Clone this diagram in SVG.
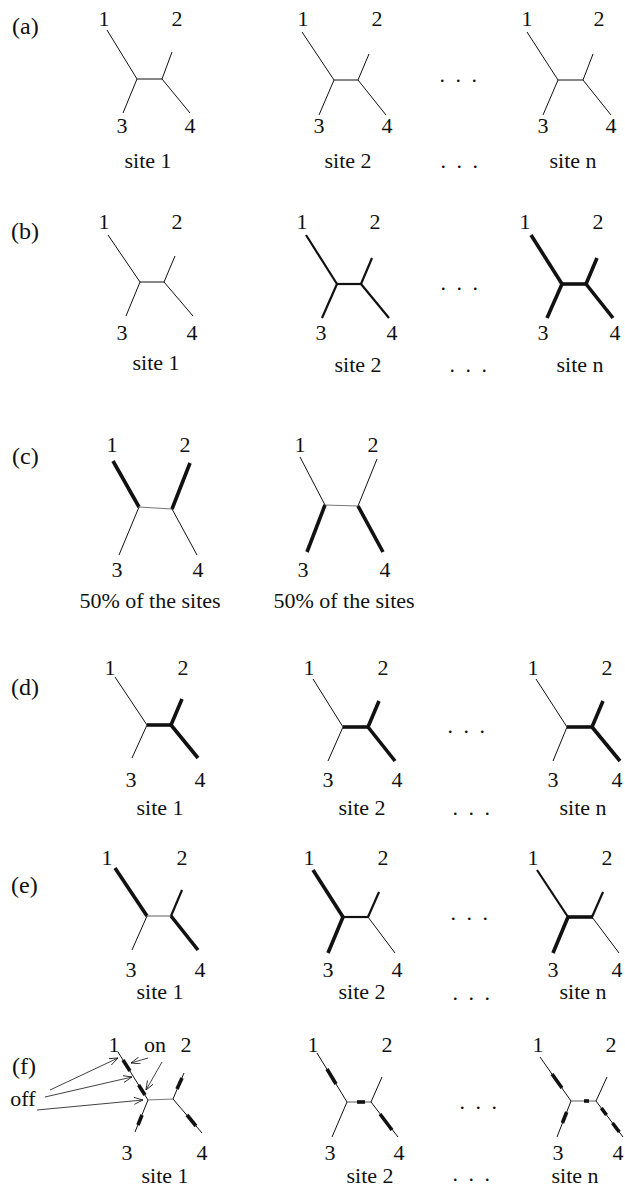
<svg xmlns="http://www.w3.org/2000/svg" width="625" height="1188" viewBox="0 0 625 1188">
<defs>
<style>
text{font-family:"Liberation Serif","Times New Roman",serif;font-size:22px;fill:#111}
.p{font-size:24px}
.m{text-anchor:middle}
.d{letter-spacing:2.5px}
line{stroke:#111;stroke-linecap:butt;fill:none}
.t{stroke-width:1}
.g{stroke:#777;stroke-width:1.2}
.md{stroke-width:2.2}
.k{stroke-width:3.6}
.s{stroke-width:3.6}
.ar{stroke-width:0.8}
</style>
<marker id="oa" markerWidth="10" markerHeight="8" refX="9" refY="3.5" orient="auto" markerUnits="userSpaceOnUse">
<path d="M0,0 L9,3.5 L0,7" fill="none" stroke="#111" stroke-width="0.8"/>
</marker>
</defs>
<rect width="625" height="1188" fill="#fff"/>

<!-- row a -->
<text class="p" x="12" y="34">(a)</text>
<g id="a1">
<line class="t" x1="107" y1="30" x2="137" y2="79"/><line class="t" x1="137" y1="79" x2="162" y2="79"/>
<line class="t" x1="162" y1="79" x2="172" y2="52"/><line class="t" x1="137" y1="79" x2="123" y2="113"/>
<line class="t" x1="162" y1="79" x2="190" y2="113"/>
<text class="m" x="104" y="26">1</text><text class="m" x="177" y="26">2</text>
<text class="m" x="122" y="133">3</text><text class="m" x="190" y="133">4</text>
<text class="m" x="148" y="168">site 1</text>
</g>
<g id="a2">
<line class="t" x1="302" y1="32" x2="334" y2="80"/><line class="t" x1="334" y1="80" x2="358" y2="80"/>
<line class="t" x1="358" y1="80" x2="369" y2="54"/><line class="t" x1="334" y1="80" x2="319" y2="115"/>
<line class="t" x1="358" y1="80" x2="386" y2="115"/>
<text class="m" x="303" y="26">1</text><text class="m" x="377" y="26">2</text>
<text class="m" x="319" y="133">3</text><text class="m" x="387" y="133">4</text>
<text class="m" x="348" y="168">site 2</text>
</g>
<text class="d" x="439.5" y="82">. . .</text>
<text class="d" x="440.5" y="168">. . .</text>
<g id="an">
<line class="t" x1="527" y1="32" x2="558" y2="80"/><line class="t" x1="558" y1="80" x2="583" y2="80"/>
<line class="t" x1="583" y1="80" x2="593" y2="54"/><line class="t" x1="558" y1="80" x2="543" y2="115"/>
<line class="t" x1="583" y1="80" x2="611" y2="115"/>
<text class="m" x="527" y="26">1</text><text class="m" x="599" y="26">2</text>
<text class="m" x="543" y="133">3</text><text class="m" x="611" y="133">4</text>
<text class="m" x="573" y="168">site n</text>
</g>

<!-- row b -->
<text class="p" x="11" y="239">(b)</text>
<g id="b1">
<line class="t" x1="108" y1="235" x2="140" y2="282"/><line class="t" x1="140" y1="282" x2="164" y2="282"/>
<line class="t" x1="164" y1="282" x2="175" y2="256"/><line class="t" x1="140" y1="282" x2="126" y2="316"/>
<line class="t" x1="164" y1="282" x2="193" y2="316"/>
<text class="m" x="104" y="229">1</text><text class="m" x="177" y="229">2</text>
<text class="m" x="122" y="340">3</text><text class="m" x="192" y="340">4</text>
<text class="m" x="156" y="370">site 1</text>
</g>
<g id="b2">
<line class="md" x1="306" y1="235" x2="337" y2="284"/><line class="md" x1="336" y1="284" x2="362" y2="284"/>
<line class="md" x1="361" y1="284" x2="372" y2="258"/><line class="md" x1="337" y1="284" x2="322" y2="318"/>
<line class="md" x1="361" y1="284" x2="389" y2="318"/>
<text class="m" x="302" y="229">1</text><text class="m" x="375" y="229">2</text>
<text class="m" x="321" y="340">3</text><text class="m" x="392" y="340">4</text>
<text class="m" x="358" y="372">site 2</text>
</g>
<text class="d" x="440.5" y="290">. . .</text>
<text class="d" x="449.5" y="372">. . .</text>
<g id="bn">
<line class="k" x1="531" y1="235" x2="562" y2="284"/><line class="k" x1="561" y1="284" x2="587" y2="284"/>
<line class="k" x1="586" y1="284" x2="597" y2="258"/><line class="k" x1="562" y1="284" x2="547" y2="318"/>
<line class="k" x1="586" y1="284" x2="613" y2="318"/>
<text class="m" x="525" y="229">1</text><text class="m" x="598" y="229">2</text>
<text class="m" x="543" y="340">3</text><text class="m" x="615" y="340">4</text>
<text class="m" x="580" y="372">site n</text>
</g>

<!-- row c -->
<text class="p" x="12" y="464">(c)</text>
<g id="c1">
<line class="k" x1="113" y1="461" x2="139" y2="507"/><line class="g" x1="139" y1="507" x2="172" y2="509"/>
<line class="k" x1="172" y1="509" x2="190" y2="463"/><line class="t" x1="139" y1="507" x2="119" y2="555"/>
<line class="t" x1="172" y1="509" x2="197" y2="555"/>
<text class="m" x="112" y="452">1</text><text class="m" x="185" y="452">2</text>
<text class="m" x="117" y="577">3</text><text class="m" x="198" y="577">4</text>
<text class="m" x="150" y="608">50% of the sites</text>
</g>
<g id="c2">
<line class="t" x1="300" y1="457" x2="325" y2="505"/><line class="g" x1="325" y1="505" x2="358" y2="506"/>
<line class="t" x1="358" y1="506" x2="377" y2="459"/><line class="k" x1="325" y1="505" x2="307" y2="552"/>
<line class="k" x1="358" y1="506" x2="383" y2="552"/>
<text class="m" x="300" y="452">1</text><text class="m" x="373" y="452">2</text>
<text class="m" x="303" y="577">3</text><text class="m" x="385" y="577">4</text>
<text class="m" x="344" y="608">50% of the sites</text>
</g>

<!-- row d -->
<text class="p" x="11" y="695">(d)</text>
<g id="d1">
<line class="t" x1="115" y1="677" x2="147" y2="725"/><line class="k" x1="147" y1="725" x2="172" y2="725"/>
<line class="k" x1="171" y1="725" x2="182" y2="699"/><line class="t" x1="147" y1="725" x2="132" y2="758"/>
<line class="k" x1="171" y1="725" x2="198" y2="758"/>
<text class="m" x="110" y="675">1</text><text class="m" x="183" y="675">2</text>
<text class="m" x="131" y="787">3</text><text class="m" x="200" y="787">4</text>
<text class="m" x="160" y="815">site 1</text>
</g>
<g id="d2">
<line class="t" x1="313" y1="679" x2="343" y2="727"/><line class="k" x1="343" y1="727" x2="369" y2="727"/>
<line class="k" x1="368" y1="727" x2="379" y2="701"/><line class="t" x1="343" y1="727" x2="328" y2="761"/>
<line class="k" x1="368" y1="727" x2="395" y2="761"/>
<text class="m" x="309" y="675">1</text><text class="m" x="383" y="675">2</text>
<text class="m" x="328" y="787">3</text><text class="m" x="397" y="787">4</text>
<text class="m" x="362" y="815">site 2</text>
</g>
<text class="d" x="447.5" y="733">. . .</text>
<text class="d" x="452.5" y="815">. . .</text>
<g id="dn">
<line class="t" x1="536" y1="679" x2="567" y2="727"/><line class="k" x1="567" y1="727" x2="593" y2="727"/>
<line class="k" x1="592" y1="727" x2="603" y2="701"/><line class="t" x1="567" y1="727" x2="553" y2="761"/>
<line class="k" x1="592" y1="727" x2="620" y2="761"/>
<text class="m" x="533" y="675">1</text><text class="m" x="607" y="675">2</text>
<text class="m" x="553" y="787">3</text><text class="m" x="617" y="787">4</text>
<text class="m" x="583" y="815">site n</text>
</g>

<!-- row e -->
<text class="p" x="11" y="893">(e)</text>
<g id="e1">
<line class="k" x1="115" y1="868" x2="147" y2="916"/><line class="g" x1="147" y1="916" x2="171" y2="916"/>
<line class="md" x1="171" y1="916" x2="182" y2="890"/><line class="t" x1="147" y1="916" x2="132" y2="950"/>
<line class="k" x1="171" y1="916" x2="198" y2="950"/>
<text class="m" x="107" y="865">1</text><text class="m" x="182" y="865">2</text>
<text class="m" x="131" y="977">3</text><text class="m" x="200" y="977">4</text>
<text class="m" x="160" y="999">site 1</text>
</g>
<g id="e2">
<line class="k" x1="313" y1="870" x2="343" y2="917"/><line class="md" x1="343" y1="917" x2="368" y2="917"/>
<line class="md" x1="368" y1="917" x2="379" y2="892"/><line class="k" x1="343" y1="917" x2="328" y2="953"/>
<line class="t" x1="368" y1="917" x2="395" y2="953"/>
<text class="m" x="309" y="865">1</text><text class="m" x="383" y="865">2</text>
<text class="m" x="328" y="977">3</text><text class="m" x="397" y="977">4</text>
<text class="m" x="362" y="999">site 2</text>
</g>
<text class="d" x="450.5" y="920">. . .</text>
<text class="d" x="452.5" y="1000">. . .</text>
<g id="en">
<line class="md" x1="537" y1="870" x2="568" y2="917"/><line class="k" x1="567" y1="917" x2="593" y2="917"/>
<line class="md" x1="592" y1="917" x2="603" y2="892"/><line class="k" x1="568" y1="917" x2="553" y2="953"/>
<line class="t" x1="592" y1="917" x2="619" y2="953"/>
<text class="m" x="533" y="865">1</text><text class="m" x="607" y="865">2</text>
<text class="m" x="553" y="977">3</text><text class="m" x="617" y="977">4</text>
<text class="m" x="583" y="999">site n</text>
</g>

<!-- row f -->
<text class="p" x="12" y="1074">(f)</text>
<g id="f1">
<line class="t" x1="118" y1="1052" x2="148" y2="1100"/><line class="g" x1="148" y1="1100" x2="173" y2="1099"/>
<line class="t" x1="173" y1="1099" x2="184" y2="1073"/><line class="t" x1="148" y1="1100" x2="135" y2="1132"/>
<line class="t" x1="173" y1="1099" x2="202" y2="1133"/>
<line class="s" x1="123" y1="1060" x2="130" y2="1071"/><line class="s" x1="138.6" y1="1085" x2="145" y2="1095"/>
<line class="s" x1="177" y1="1089" x2="182" y2="1078"/><line class="s" x1="187" y1="1115" x2="196" y2="1126"/>
<line class="s" x1="142" y1="1115" x2="138" y2="1125"/>
<text class="m" x="114" y="1052">1</text><text class="m" x="186" y="1052">2</text>
<text class="m" x="127" y="1160">3</text><text class="m" x="202" y="1160">4</text>
<text class="m" x="155" y="1052">on</text>
<text class="m" x="23" y="1106">off</text>
<text class="m" x="165" y="1183">site 1</text>
</g>
<g id="f2">
<line class="t" x1="317" y1="1053" x2="347" y2="1102"/><line class="g" x1="347" y1="1102" x2="371" y2="1102"/>
<line class="t" x1="371" y1="1102" x2="382" y2="1077"/><line class="t" x1="347" y1="1102" x2="332" y2="1137"/>
<line class="t" x1="371" y1="1102" x2="398" y2="1137"/>
<line class="s" x1="327" y1="1069" x2="336" y2="1084"/><line class="s" x1="357" y1="1102" x2="365" y2="1102"/>
<line class="s" x1="380" y1="1114" x2="392" y2="1130"/>
<text class="m" x="313" y="1052">1</text><text class="m" x="387" y="1052">2</text>
<text class="m" x="330" y="1160">3</text><text class="m" x="399" y="1160">4</text>
<text class="m" x="370" y="1183">site 2</text>
</g>
<text class="d" x="459.5" y="1109">. . .</text>
<text class="d" x="452.5" y="1181">. . .</text>
<g id="fn">
<line class="t" x1="540" y1="1057" x2="571" y2="1101"/><line class="g" x1="571" y1="1101" x2="596" y2="1101"/>
<line class="t" x1="596" y1="1101" x2="607" y2="1077"/><line class="t" x1="571" y1="1101" x2="557" y2="1137"/>
<line class="t" x1="596" y1="1101" x2="623" y2="1137"/>
<line class="s" x1="552" y1="1074" x2="562" y2="1088"/><line class="s" x1="584" y1="1101" x2="589" y2="1101"/>
<line class="s" x1="566.7" y1="1112" x2="562.4" y2="1123"/>
<line class="s" x1="601.3" y1="1108" x2="606.5" y2="1115"/><line class="s" x1="612.5" y1="1123" x2="619.3" y2="1132"/>
<text class="m" x="538" y="1052">1</text><text class="m" x="611" y="1052">2</text>
<text class="m" x="558" y="1160">3</text><text class="m" x="618" y="1160">4</text>
<text class="m" x="575" y="1183">site n</text>
</g>

<g id="connectors">
<line class="ar" x1="50" y1="1090" x2="118" y2="1058" marker-end="url(#oa)"/>
<line class="ar" x1="45" y1="1097" x2="132" y2="1077" marker-end="url(#oa)"/>
<line class="ar" x1="37" y1="1110" x2="143" y2="1100" marker-end="url(#oa)"/>
<line class="ar" x1="148" y1="1058" x2="131" y2="1063" marker-end="url(#oa)"/>
<line class="ar" x1="162" y1="1062" x2="146" y2="1090" marker-end="url(#oa)"/>
</g>
</svg>
